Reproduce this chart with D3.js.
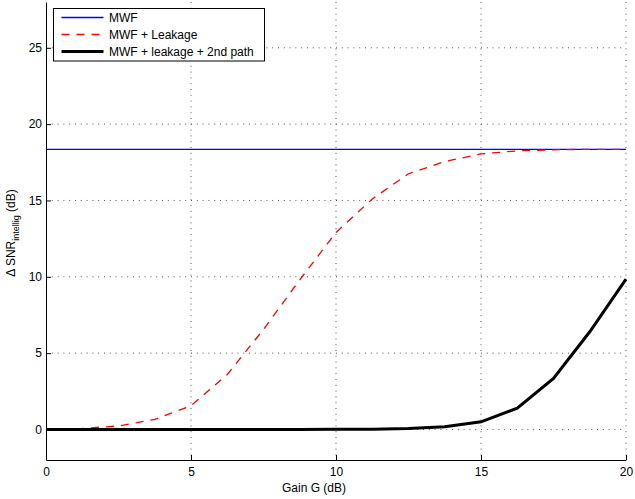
<!DOCTYPE html>
<html>
<head>
<meta charset="utf-8">
<script src="https://cdn.jsdelivr.net/npm/d3@7"></script>
<style>
    body { margin: 0; background: #fff; }
    svg { font-family: "Liberation Sans", Arial, sans-serif; }
    .axis path, .axis line { stroke: #000; }
    .axis text { font-size: 12px; fill: #000; }
</style>
</head>
<body>
<div id="chart"></div>
<script>
// data
const gain = [0, 1.25, 2.5, 3.75, 5, 6.25, 7.5, 8.75, 10, 11.25, 12.5, 13.75, 15, 16.25, 17.5, 18.75, 20];
const mwf = [18.35, 18.35, 18.35, 18.35, 18.35, 18.35, 18.35, 18.35, 18.35, 18.35, 18.35, 18.35, 18.35, 18.35, 18.35, 18.35, 18.35];
const mwfLeak = [0.02, 0.07, 0.23, 0.66, 1.55, 3.6, 6.55, 9.8, 12.9, 15.1, 16.75, 17.55, 18.05, 18.25, 18.32, 18.35, 18.35];
const mwfLeak2nd = [0, 0, 0, 0, 0, 0, 0, 0, 0.01, 0.02, 0.06, 0.18, 0.5, 1.4, 3.35, 6.4, 9.85];

const xTicks = [0, 5, 10, 15, 20];
const yTicks = [0, 5, 10, 15, 20, 25];

const seriesNames = ["MWF", "MWF + Leakage", "MWF + leakage + 2nd path"];

let margin = {top: 2, right: 9, bottom: 39, left: 46};
let width = 635 - margin.left - margin.right;
let height = 499 - margin.top - margin.bottom;

let svg = d3.select("#chart").append("svg")
    .attr("width", 635)
    .attr("height", 499);

let g = svg.append("g")
    .attr("transform", `translate(${margin.left}, ${margin.top})`);

let x = d3.scaleLinear().domain([0, 20]).range([0, width]);
let y = d3.scaleLinear().domain([-2, 28]).range([height, 0]);

// dotted grid
g.append("g").selectAll("line.vgrid")
    .data(xTicks.filter(d => d > 0))
    .enter().append("line")
    .attr("x1", d => x(d)).attr("x2", d => x(d))
    .attr("y1", 0).attr("y2", height)
    .attr("stroke", "#555")
    .attr("stroke-width", 1)
    .attr("stroke-dasharray", "1,4.8");

g.append("g").selectAll("line.hgrid")
    .data(yTicks)
    .enter().append("line")
    .attr("x1", 0).attr("x2", width)
    .attr("y1", d => y(d)).attr("y2", d => y(d))
    .attr("stroke", "#555")
    .attr("stroke-width", 1)
    .attr("stroke-dasharray", "1,4.8");

// axes, ticks pointing inward
g.append("g")
    .attr("class", "axis")
    .attr("transform", `translate(0, ${height})`)
    .call(d3.axisBottom(x).tickValues(xTicks).tickSize(-5).tickSizeOuter(0).tickPadding(7));

g.append("g")
    .attr("class", "axis")
    .call(d3.axisLeft(y).tickValues(yTicks).tickSize(-5).tickSizeOuter(0).tickPadding(4));

// lines
let line = vals => d3.line()
    .x((d, i) => x(gain[i]))
    .y(d => y(d))(vals);

g.append("path")
    .attr("d", line(mwf))
    .attr("fill", "none")
    .attr("stroke", "#0000ff")
    .attr("stroke-width", 1.3);

g.append("path")
    .attr("d", line(mwfLeak))
    .attr("fill", "none")
    .attr("stroke", "#ff0000")
    .attr("stroke-width", 1.3)
    .attr("stroke-dasharray", "8,7");

g.append("path")
    .attr("d", line(mwfLeak2nd))
    .attr("fill", "none")
    .attr("stroke", "#000")
    .attr("stroke-width", 3);

// axis labels
svg.append("text")
    .attr("x", 314)
    .attr("y", 492)
    .attr("text-anchor", "middle")
    .attr("font-size", 12)
    .text("Gain G (dB)");

let ylab = svg.append("text")
    .attr("transform", "translate(15, 233) rotate(-90)")
    .attr("text-anchor", "middle")
    .attr("font-size", 12);
ylab.append("tspan").text("\u0394 SNR");
ylab.append("tspan").attr("font-size", 9).attr("dy", 4).text("intellig");
ylab.append("tspan").attr("dy", -4).text(" (dB)");

// legend
let legend = svg.append("g").attr("transform", "translate(53.5, 8.5)");
legend.append("rect")
    .attr("width", 211)
    .attr("height", 52.5)
    .attr("fill", "#fff")
    .attr("stroke", "#000")
    .attr("stroke-width", 1);

let styles = [
    {color: "#0000ff", w: 1.3, dash: null},
    {color: "#ff0000", w: 1.3, dash: "8,7"},
    {color: "#000", w: 3, dash: null}
];

seriesNames.forEach((name, i) => {
    let rowY = 9 + i * 17;
    legend.append("line")
        .attr("x1", 8).attr("x2", 50)
        .attr("y1", rowY).attr("y2", rowY)
        .attr("stroke", styles[i].color)
        .attr("stroke-width", styles[i].w)
        .attr("stroke-dasharray", styles[i].dash);
    legend.append("text")
        .attr("x", 55.5)
        .attr("y", rowY + 4.3)
        .attr("font-size", 12)
        .text(name);
});
</script>
</body>
</html>
